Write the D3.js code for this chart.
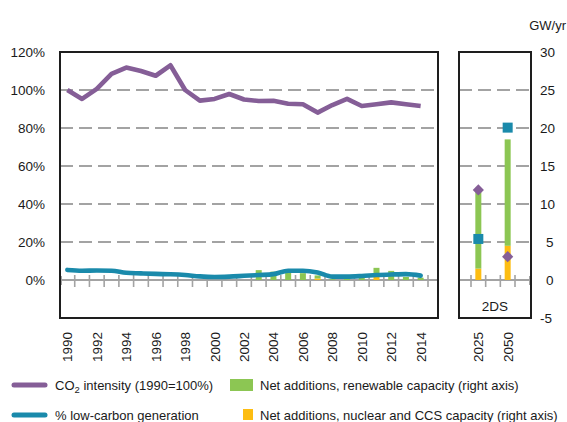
<!DOCTYPE html>
<html>
<head>
<meta charset="utf-8">
<script src="https://cdn.jsdelivr.net/npm/d3@7"></script>
<style>
  html, body { margin: 0; padding: 0; background: #fff; }
  svg { display: block; font-family: "Liberation Sans", Arial, sans-serif; }
  text { fill: #1a1a1a; }
</style>
</head>
<body>
<svg id="chart" width="567" height="422"></svg>
<script>
// ---------- data ----------
const years = ["1990","1991","1992","1993","1994","1995","1996","1997","1998","1999",
               "2000","2001","2002","2003","2004","2005","2006","2007","2008","2009",
               "2010","2011","2012","2013","2014"];
const yearLabels = ["1990","1992","1994","1996","1998","2000","2002","2004","2006","2008","2010","2012","2014"];
const co2Intensity = [100, 95.3, 100.6, 108.5, 111.8, 110, 107.5, 113, 100, 94.4,
                      95.3, 97.9, 95, 94.2, 94.3, 92.8, 92.5, 88.1, 92.1, 95.3,
                      91.6, 92.5, 93.5, 92.5, 91.6];
const lowCarbon = [5.3, 4.9, 5.0, 4.9, 3.8, 3.5, 3.2, 3.0, 2.6, 1.9,
                   1.6, 1.8, 2.2, 2.6, 3.1, 4.9, 4.9, 4.0, 1.8, 1.8,
                   2.1, 2.6, 2.9, 3.1, 2.3];
const renewAdd = [0, 0, 0, 0, 0, 0, 0, 0, 0, 0,
                  0, 0, 0, 1.3, 1.1, 1.0, 0.9, 0.4, 0.1, 0.2,
                  0.3, 1.2, 1.2, 0.4, 0.3];
const nuclearAdd = [0, 0, 0, 0, 0, 0, 0, 0, 0, 0,
                    0, 0, 0, 0, 0, 0, 0, 0.2, 0, 0,
                    0, 0.4, 0, 0, 0];
const scenCats = ["2025", "gap", "2050"];
const scenYears = ["2025", "2050"];
const scenRenew = [10.1, 14.0];
const scenNuclear = [1.5, 4.5];
const scenCO2 = [47.4, 12.3];
const scenLowCarbon = [21.6, 80.2];
const scenName = "2DS";
const leftTicks = [0, 20, 40, 60, 80, 100, 120];
const rightTicks = [-5, 0, 5, 10, 15, 20, 25, 30];
const gridTicks = [20, 40, 60, 80, 100];

// ---------- styles ----------
const C_PURPLE = "#855e97", C_TEAL = "#1a8aab", C_GREEN = "#8cc653", C_YELLOW = "#fdbd12";
const C_GRID = "#a3a3a3", C_BOX = "#1e1e1e";
const FS = 13.5, FS_LEG = 13;

const svg = d3.select("#chart");
const yTop = 52, yBot = 318;
const L = {x0: 60, x1: 438, bandEnd: 428};
const R = {x0: 459, x1: 531, b0: 471, b1: 515};

const yL = d3.scaleLinear().domain([-20, 120]).range([yBot, yTop]);
const yR = d3.scaleLinear().domain([-5, 30]).range([yBot, yTop]);
const xL = d3.scaleBand().domain(years).range([L.x0, L.bandEnd]);
const xR = d3.scaleBand().domain(scenCats).range([R.b0, R.b1]);
const bw = 6;

function panel(g, x0, x1, xScale, cats) {
  g.selectAll(".grid").data(gridTicks).join("line")
    .attr("x1", x0).attr("x2", x1)
    .attr("y1", d => yL(d)).attr("y2", d => yL(d))
    .attr("stroke", C_GRID).attr("stroke-width", 2).attr("stroke-dasharray", "13,6");
  g.append("line").attr("x1", x0).attr("x2", x1).attr("y1", yL(0)).attr("y2", yL(0))
    .attr("stroke", C_GRID).attr("stroke-width", 2);
  const bounds = cats.map(c => xScale(c)).concat([xScale(cats[cats.length-1]) + xScale.bandwidth()]);
  g.selectAll(".tk").data(bounds).join("line")
    .attr("x1", d => d).attr("x2", d => d)
    .attr("y1", yL(0) - 5).attr("y2", yL(0) + 7)
    .attr("stroke", C_GRID).attr("stroke-width", 1.6);
}

const gL = svg.append("g");
panel(gL, L.x0, L.x1, xL, years);
const gR = svg.append("g");
panel(gR, R.x0, R.x1, xR, scenCats);

svg.append("rect").attr("x", L.x0 - 1).attr("y", yL(0) - 4).attr("width", 3).attr("height", 9).attr("fill", C_GRID);
svg.append("rect").attr("x", R.x1 - 2).attr("y", yL(0) - 4).attr("width", 3).attr("height", 9).attr("fill", C_GRID);

// ---------- historical bars ----------
const cx = d => xL(d) + xL.bandwidth() / 2;
gL.selectAll(".nuc").data(years).join("rect")
  .attr("x", d => cx(d) - bw/2).attr("width", bw)
  .attr("y", (d, i) => yR(nuclearAdd[i])).attr("height", (d, i) => yR(0) - yR(nuclearAdd[i]))
  .attr("fill", C_YELLOW);
gL.selectAll(".ren").data(years).join("rect")
  .attr("x", d => cx(d) - bw/2).attr("width", bw)
  .attr("y", (d, i) => yR(nuclearAdd[i] + renewAdd[i]))
  .attr("height", (d, i) => yR(nuclearAdd[i]) - yR(nuclearAdd[i] + renewAdd[i]))
  .attr("fill", C_GREEN);

// ---------- lines ----------
const lineCO2 = d3.line().x((d, i) => cx(years[i])).y(d => yL(d));
gL.append("path").datum(co2Intensity).attr("d", lineCO2)
  .attr("fill", "none").attr("stroke", C_PURPLE).attr("stroke-width", 4.6)
  .attr("stroke-linejoin", "round").attr("stroke-linecap", "butt");
const lineLC = d3.line().x((d, i) => cx(years[i])).y(d => yL(d)).curve(d3.curveMonotoneX);
gL.append("path").datum(lowCarbon).attr("d", lineLC)
  .attr("fill", "none").attr("stroke", C_TEAL).attr("stroke-width", 4.6)
  .attr("stroke-linejoin", "round").attr("stroke-linecap", "round");

// ---------- scenario bars & markers ----------
const sx = d => xR(d) + xR.bandwidth() / 2;
gR.selectAll(".snuc").data(scenYears).join("rect")
  .attr("x", d => sx(d) - bw/2).attr("width", bw)
  .attr("y", (d, i) => yR(scenNuclear[i])).attr("height", (d, i) => yR(0) - yR(scenNuclear[i]))
  .attr("fill", C_YELLOW);
gR.selectAll(".sren").data(scenYears).join("rect")
  .attr("x", d => sx(d) - bw/2).attr("width", bw)
  .attr("y", (d, i) => yR(scenNuclear[i] + scenRenew[i]))
  .attr("height", (d, i) => yR(scenNuclear[i]) - yR(scenNuclear[i] + scenRenew[i]))
  .attr("fill", C_GREEN);
gR.selectAll(".sq").data(scenYears).join("rect")
  .attr("x", d => sx(d) - 5).attr("y", (d, i) => yL(scenLowCarbon[i]) - 5)
  .attr("width", 10).attr("height", 10).attr("fill", C_TEAL);
gR.selectAll(".dm").data(scenYears).join("path")
  .attr("d", (d, i) => {
    const x = sx(d), y = yL(scenCO2[i]), r = 5.6;
    return `M${x},${y - r}L${x + r},${y}L${x},${y + r}L${x - r},${y}Z`;
  })
  .attr("fill", C_PURPLE);

// ---------- boxes ----------
svg.append("rect").attr("x", L.x0).attr("y", yTop).attr("width", L.x1 - L.x0).attr("height", yBot - yTop)
  .attr("fill", "none").attr("stroke", C_BOX).attr("stroke-width", 2);
svg.append("rect").attr("x", R.x0).attr("y", yTop).attr("width", R.x1 - R.x0).attr("height", yBot - yTop)
  .attr("fill", "none").attr("stroke", C_BOX).attr("stroke-width", 2);

// ---------- axis labels ----------
svg.selectAll(".ltl").data(leftTicks).join("text")
  .attr("x", 45).attr("y", d => yL(d)).attr("dy", "0.36em")
  .attr("text-anchor", "end").attr("font-size", FS).text(d => d + "%");
svg.selectAll(".rtl").data(rightTicks).join("text")
  .attr("x", d => (String(d).length === 1 ? 546 : 540)).attr("y", d => yR(d)).attr("dy", "0.36em")
  .attr("text-anchor", "start").attr("font-size", FS).text(d => d);
svg.append("text").attr("x", 566).attr("y", 30).attr("text-anchor", "end").attr("font-size", FS_LEG).text("GW/yr");

svg.selectAll(".xl").data(yearLabels).join("text")
  .attr("transform", d => `translate(${cx(d) + 5},332) rotate(-90)`)
  .attr("text-anchor", "end").attr("font-size", FS).text(d => d);
svg.selectAll(".xr").data(scenYears).join("text")
  .attr("transform", d => `translate(${sx(d) + 5},332) rotate(-90)`)
  .attr("text-anchor", "end").attr("font-size", FS).text(d => d);
svg.append("text").attr("x", (R.x0 + R.x1) / 2).attr("y", 311).attr("text-anchor", "middle")
  .attr("font-size", FS).text(scenName);

// ---------- legend ----------
const lg = svg.append("g").attr("font-size", FS_LEG);
lg.append("line").attr("x1", 14).attr("x2", 45).attr("y1", 385).attr("y2", 385)
  .attr("stroke", C_PURPLE).attr("stroke-width", 5).attr("stroke-linecap", "round");
const t1 = lg.append("text").attr("x", 55).attr("y", 390);
t1.append("tspan").text("CO");
t1.append("tspan").attr("font-size", 9.5).attr("dy", 3).text("2");
t1.append("tspan").attr("dy", -3).text(" intensity (1990=100%)");
lg.append("line").attr("x1", 14).attr("x2", 45).attr("y1", 415).attr("y2", 415)
  .attr("stroke", C_TEAL).attr("stroke-width", 5).attr("stroke-linecap", "round");
lg.append("text").attr("x", 55).attr("y", 420).text("% low-carbon generation");
lg.append("rect").attr("x", 230).attr("y", 379).attr("width", 23).attr("height", 12).attr("fill", C_GREEN);
lg.append("text").attr("x", 260).attr("y", 390).text("Net additions, renewable capacity (right axis)");
lg.append("rect").attr("x", 243).attr("y", 409).attr("width", 10).attr("height", 11).attr("fill", C_YELLOW);
lg.append("text").attr("x", 260).attr("y", 420).text("Net additions, nuclear and CCS capacity (right axis)");
</script>
</body>
</html>
